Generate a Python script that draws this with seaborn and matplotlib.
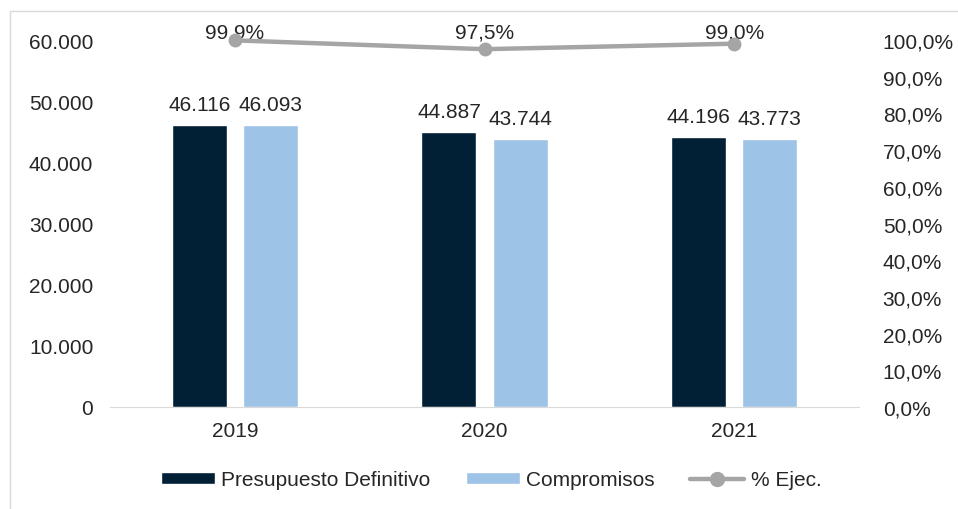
import pandas as pd
import matplotlib.pyplot as plt
import seaborn as sns
from matplotlib.lines import Line2D
from matplotlib.patches import Patch
from matplotlib.ticker import FuncFormatter
from matplotlib.transforms import blended_transform_factory

years = ["2019", "2020", "2021"]
presupuesto = [46116, 44887, 44196]
compromisos = [46093, 43744, 43773]
ejec = [99.9, 97.5, 99.0]

DARK = "#011F35"
LIGHT = "#9DC3E6"
GREY = "#A5A5A5"
FS = 15

sns.set_style("white")
plt.rcParams["font.family"] = ["Liberation Sans", "DejaVu Sans"]
plt.rcParams["font.size"] = FS

df = pd.DataFrame({
    "year": years * 2,
    "value": presupuesto + compromisos,
    "serie": ["Presupuesto Definitivo"] * 3 + ["Compromisos"] * 3,
})


def miles(v):
    return f"{v:,.0f}".replace(",", ".")


fig = plt.figure(figsize=(9.58, 5.10), dpi=100)
ax = fig.add_axes([0.1148, 0.2, 0.782, 0.7196])

sns.barplot(data=df, x="year", y="value", hue="serie", palette=[DARK, LIGHT],
            width=0.57, gap=0.228, saturation=1, ax=ax, legend=False)
ax.set_xlim(-0.5, 2.5)
ax.set_ylim(0, 60000)
ax.set_yticks(range(0, 60001, 10000))
ax.yaxis.set_major_formatter(FuncFormatter(lambda v, p: miles(v)))
ax.set_xlabel("")
ax.set_ylabel("")
for c in ax.containers:
    ax.bar_label(c, labels=[miles(v) for v in c.datavalues], padding=8, fontsize=FS)

for s in ["top", "left", "right"]:
    ax.spines[s].set_visible(False)
ax.spines["bottom"].set_color("#D9D9D9")
ax.tick_params(axis="both", length=0, labelsize=FS)
ax.tick_params(axis="y", pad=12)
ax.tick_params(axis="x", pad=10)

ax2 = ax.twinx()
sns.lineplot(x=[0, 1, 2], y=ejec, ax=ax2, color=GREY, linewidth=3.2,
             marker="o", markersize=10, markeredgewidth=0, clip_on=False, zorder=3)
ax2.set_ylim(0, 100)
ax2.set_yticks(range(0, 101, 10))
ax2.yaxis.set_major_formatter(FuncFormatter(lambda v, p: f"{v:.1f}%".replace(".", ",")))
ax2.tick_params(axis="y", length=0, labelsize=FS, pad=17)
for s in ax2.spines.values():
    s.set_visible(False)

# % labels sit in a row just above the plot area, as in the original
trans = blended_transform_factory(ax2.transData, ax2.transAxes)
for i, v in enumerate(ejec):
    ax2.annotate(f"{v:.1f}%".replace(".", ","), (i, 1.0), xycoords=trans,
                 xytext=(0, 2), textcoords="offset points", ha="center",
                 va="baseline", fontsize=FS, zorder=1)

# outer frame of the chart area
fig.add_artist(Line2D([10 / 958, 10 / 958], [0, 1 - 12 / 510], color="#D9D9D9", lw=1))
fig.add_artist(Line2D([10 / 958, 1], [1 - 12 / 510, 1 - 12 / 510], color="#D9D9D9", lw=1))

handles = [
    Patch(facecolor=DARK, label="Presupuesto Definitivo"),
    Patch(facecolor=LIGHT, label="Compromisos"),
    Line2D([0], [0], color=GREY, lw=3.2, marker="o", markersize=10, label="% Ejec."),
]
fig.legend(handles=handles, loc="center", bbox_to_anchor=(0.5125, 0.057), ncol=3,
           frameon=False, fontsize=FS, handlelength=2.6, handleheight=0.5,
           columnspacing=1.7, handletextpad=0.3)

fig.savefig("out.png", dpi=100)
